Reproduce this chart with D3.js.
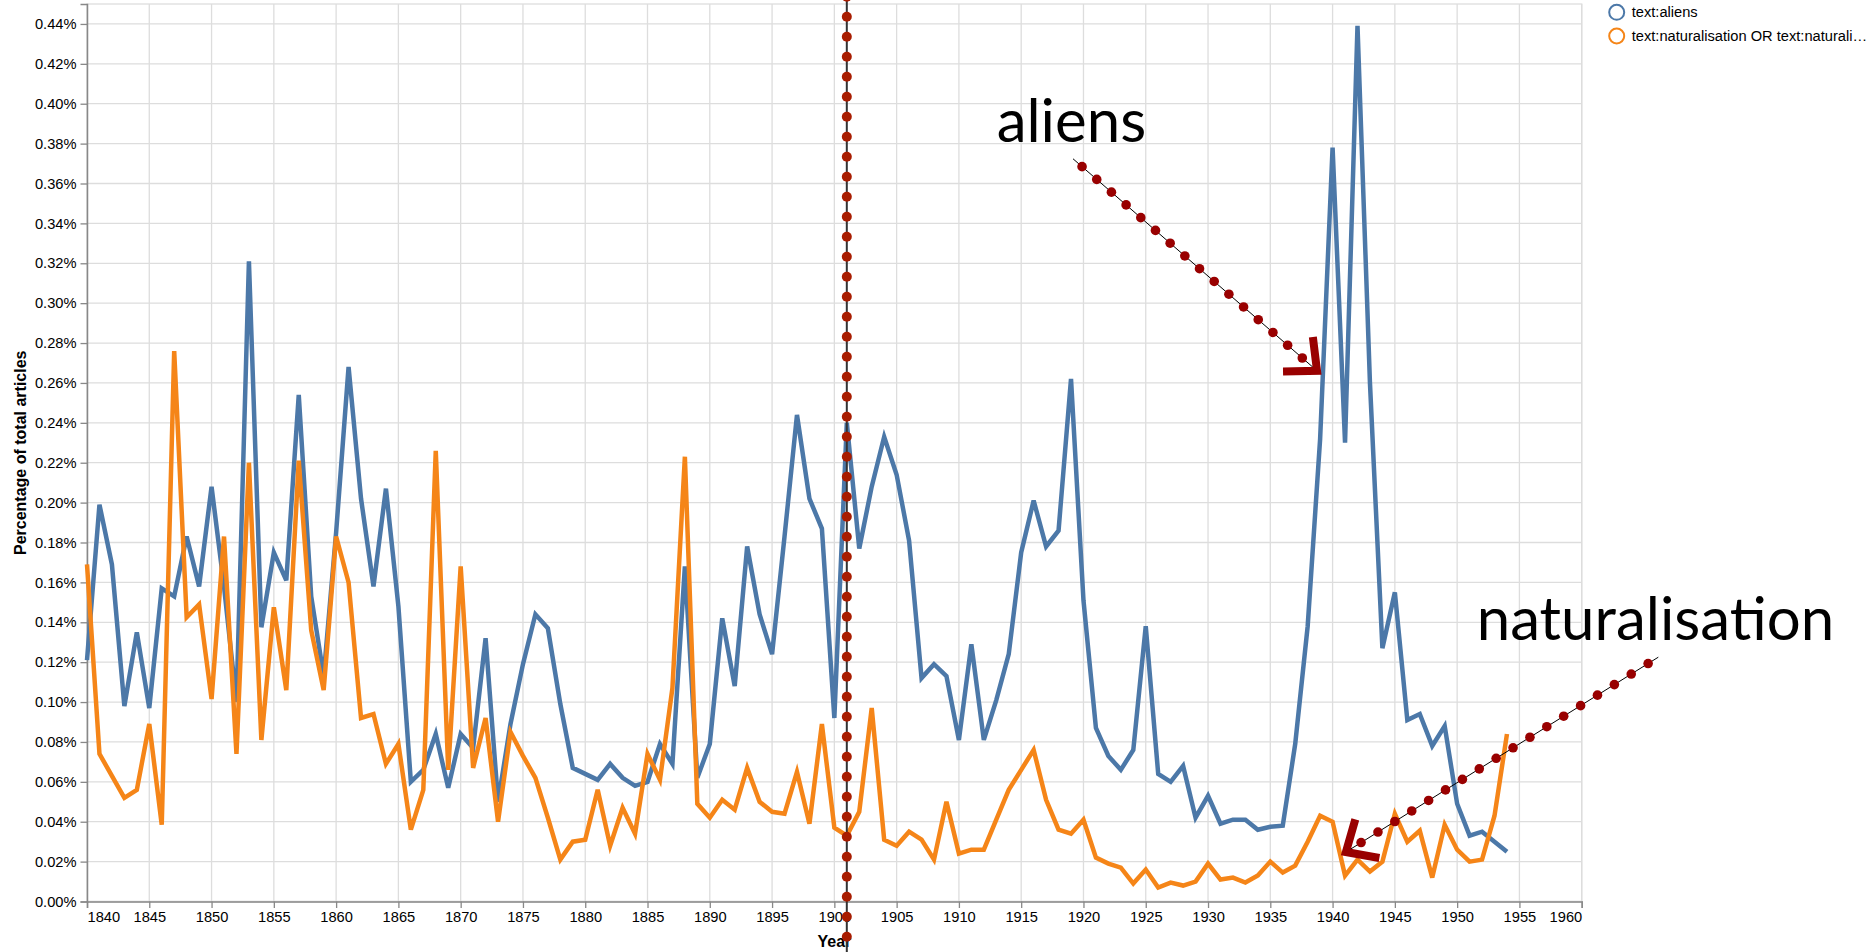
<!DOCTYPE html>
<html>
<head>
<meta charset="utf-8">
<script src="https://cdn.jsdelivr.net/npm/d3@7"></script>
<style>
  html, body { margin: 0; padding: 0; background: #fff; }
  svg { display: block; }
  text { font-family: "Liberation Sans", Arial, Helvetica, sans-serif; }
</style>
</head>
<body>
<svg id="chart" width="1875" height="952"></svg>
<script>
// ---------------- DATA ----------------
const years = d3.range(1840, 1955);

const aliens = [
  0.121, 0.199, 0.169, 0.098, 0.135, 0.097, 0.157, 0.153, 0.183, 0.158, // 1840-1849
  0.208, 0.158, 0.100, 0.321, 0.1375, 0.175, 0.161, 0.254, 0.153, 0.113, // 1850-1859
  0.185, 0.268, 0.202, 0.158, 0.207, 0.148, 0.060, 0.066, 0.084, 0.057, // 1860-1869
  0.084, 0.077, 0.132, 0.050, 0.089, 0.119, 0.144, 0.137, 0.099, 0.067, // 1870-1879
  0.064, 0.061, 0.069, 0.062, 0.058, 0.060, 0.079, 0.069, 0.168, 0.062, // 1880-1889
  0.079, 0.142, 0.108, 0.178, 0.144, 0.124, 0.183, 0.244, 0.202, 0.187, // 1890-1899
  0.092, 0.240, 0.177, 0.208, 0.233, 0.214, 0.181, 0.112, 0.119, 0.113, // 1900-1909
  0.081, 0.129, 0.081, 0.101, 0.124, 0.175, 0.201, 0.178, 0.186, 0.262, // 1910-1919
  0.151, 0.087, 0.073, 0.066, 0.076, 0.138, 0.064, 0.060, 0.068, 0.042, // 1920-1929
  0.053, 0.039, 0.041, 0.041, 0.036, 0.0375, 0.038, 0.079, 0.138, 0.232, // 1930-1939
  0.378, 0.230, 0.439, 0.260, 0.127, 0.155, 0.091, 0.094, 0.078, 0.088, // 1940-1949
  0.049, 0.033, 0.035, 0.030, 0.025                                     // 1950-1954
];

const naturalisation = [
  0.169, 0.074, 0.063, 0.052, 0.056, 0.089, 0.0385, 0.276, 0.1425, 0.149, // 1840-1849
  0.1015, 0.183, 0.074, 0.220, 0.081, 0.1475, 0.106, 0.221, 0.136, 0.106, // 1850-1859
  0.183, 0.160, 0.092, 0.094, 0.069, 0.079, 0.036, 0.056, 0.226, 0.066,   // 1860-1869
  0.168, 0.067, 0.092, 0.040, 0.085, 0.073, 0.062, 0.042, 0.021, 0.030,   // 1870-1879
  0.031, 0.056, 0.028, 0.047, 0.034, 0.074, 0.061, 0.107, 0.223, 0.049,   // 1880-1889
  0.042, 0.051, 0.046, 0.067, 0.050, 0.045, 0.044, 0.065, 0.039, 0.089,   // 1890-1899
  0.037, 0.033, 0.045, 0.097, 0.031, 0.028, 0.035, 0.031, 0.021, 0.050,   // 1900-1909
  0.024, 0.026, 0.026, 0.041, 0.056, 0.066, 0.076, 0.051, 0.036, 0.034,   // 1910-1919
  0.041, 0.022, 0.019, 0.017, 0.009, 0.016, 0.007, 0.0095, 0.008, 0.010,  // 1920-1929
  0.019, 0.011, 0.012, 0.0095, 0.013, 0.020, 0.0145, 0.018, 0.030, 0.043, // 1930-1939
  0.040, 0.013, 0.021, 0.015, 0.020, 0.044, 0.030, 0.0355, 0.012, 0.0385, // 1940-1949
  0.026, 0.020, 0.021, 0.043, 0.084                                       // 1950-1954
];

const seriesNames = ["text:aliens", "text:naturalisation OR text:naturali\u2026"];
const seriesColors = ["#4c78a8", "#f58518"];

const xTicks = d3.range(1840, 1961, 5);
const yTicks = d3.range(0, 0.4401, 0.02);

// annotation anchors in data coordinates (year, percent)
const markerYear = 1901;
const annotations = [
  { label: "aliens",         textAt: [1913.03, 0.3810], from: [1919.16, 0.3724], to: [1938.75, 0.2661], spacing: 19.45 },
  { label: "naturalisation", textAt: [1951.57, 0.1311], from: [1966.15, 0.1225], to: [1941.07, 0.0248], spacing: 19.9 }
];

// ---------------- CHART ----------------
const svg = d3.select("#chart");
const x = d3.scaleLinear().domain([1840, 1960]).range([87, 1581.7]);
const y = d3.scaleLinear().domain([0, 0.45]).range([901.5, 4]);
const fmt = v => d3.format(".2f")(v) + "%";

// grid
const grid = svg.append("g");
grid.selectAll("line.vg").data(xTicks).join("line")
  .attr("x1", d => x(d)).attr("x2", d => x(d))
  .attr("y1", y(0)).attr("y2", y(0.45))
  .attr("stroke", "#ddd").attr("stroke-width", 1.3);
grid.selectAll("line.hg").data(yTicks).join("line")
  .attr("x1", x(1840)).attr("x2", x(1960))
  .attr("y1", d => y(d)).attr("y2", d => y(d))
  .attr("stroke", "#ddd").attr("stroke-width", 1.3);
// view border
svg.append("rect")
  .attr("x", x(1840)).attr("y", y(0.45))
  .attr("width", x(1960) - x(1840)).attr("height", y(0) - y(0.45))
  .attr("fill", "none").attr("stroke", "#ddd").attr("stroke-width", 1.3);

// axes
const xAxis = svg.append("g").attr("transform", `translate(0,${y(0)})`)
  .call(d3.axisBottom(x).tickValues(xTicks).tickFormat(d3.format("d")).tickSize(6.5).tickPadding(4));
xAxis.selectAll("text").attr("font-size", "14.67px").attr("fill", "#000")
  .attr("text-anchor", (d, i, n) => i === 0 ? "start" : (i === n.length - 1 ? "end" : "middle"));
xAxis.select(".domain").attr("stroke", "#888").attr("stroke-width", 1.5);
xAxis.selectAll(".tick line").attr("stroke", "#888").attr("stroke-width", 1.3);

const yAxis = svg.append("g").attr("transform", `translate(${x(1840)},0)`)
  .call(d3.axisLeft(y).tickValues(yTicks).tickFormat(fmt).tickSize(6.5).tickPadding(4));
yAxis.selectAll("text").attr("font-size", "14.67px").attr("fill", "#000");
yAxis.select(".domain").attr("stroke", "#888").attr("stroke-width", 1.5);
yAxis.selectAll(".tick line").attr("stroke", "#888").attr("stroke-width", 1.3);

svg.append("text").attr("transform", `translate(25.5,${(y(0) + y(0.45)) / 2}) rotate(-90)`)
  .attr("text-anchor", "middle").attr("font-weight", "bold").attr("font-size", "16px")
  .text("Percentage of total articles");
svg.append("text").attr("x", (x(1840) + x(1960)) / 2).attr("y", 947)
  .attr("text-anchor", "middle").attr("font-weight", "bold").attr("font-size", "16px")
  .text("Year");

// lines
const line = d3.line().x((d, i) => x(years[i])).y(d => y(d));
[aliens, naturalisation].forEach((s, k) => {
  svg.append("path").datum(s).attr("d", line)
    .attr("fill", "none").attr("stroke", seriesColors[k]).attr("stroke-width", 4.5);
});

// vertical dotted marker line
const vx = x(markerYear);
svg.append("line").attr("x1", vx).attr("x2", vx).attr("y1", 0).attr("y2", 952)
  .attr("stroke", "#333").attr("stroke-width", 2);
svg.append("g").selectAll("circle").data(d3.range(0, 48)).join("circle")
  .attr("cx", vx).attr("cy", k => -3.3 + 20 * k).attr("r", 5).attr("fill", "#a81c00");

// annotation arrows & labels
annotations.forEach(a => {
  const x0 = x(a.from[0]), y0 = y(a.from[1]);
  const x1 = x(a.to[0]), y1 = y(a.to[1]);
  const dx = x1 - x0, dy = y1 - y0, len = Math.hypot(dx, dy);
  const ux = dx / len, uy = dy / len;
  svg.append("line").attr("x1", x0).attr("y1", y0).attr("x2", x1).attr("y2", y1)
    .attr("stroke", "#000").attr("stroke-width", 1);
  const dots = [];
  for (let s = 12; s < len - 12; s += a.spacing) dots.push(s);
  svg.append("g").selectAll("circle").data(dots).join("circle")
    .attr("cx", s => x0 + ux * s).attr("cy", s => y0 + uy * s).attr("r", 4.8).attr("fill", "#990000");
  // chevron head
  const back = Math.atan2(-uy, -ux), half = 42 * Math.PI / 180, armLen = 34;
  const p1 = [x1 + armLen * Math.cos(back + half), y1 + armLen * Math.sin(back + half)];
  const p2 = [x1 + armLen * Math.cos(back - half), y1 + armLen * Math.sin(back - half)];
  svg.append("path").attr("d", `M${p1[0]},${p1[1]}L${x1},${y1}L${p2[0]},${p2[1]}`)
    .attr("fill", "none").attr("stroke", "#990000").attr("stroke-width", 8)
    .attr("stroke-linejoin", "miter").attr("stroke-miterlimit", 10);
  svg.append("text").attr("x", x(a.textAt[0])).attr("y", y(a.textAt[1]))
    .attr("font-size", "60px").attr("fill", "#000")
    .style("font-family", "Lato, sans-serif")
    .text(a.label);
});

// legend
const legend = svg.append("g");
seriesNames.forEach((name, i) => {
  const cy = 12.3 + 23.7 * i;
  legend.append("circle").attr("cx", 1616.7).attr("cy", cy).attr("r", 7.5)
    .attr("fill", "none").attr("stroke", seriesColors[i]).attr("stroke-width", 2);
  legend.append("text").attr("x", 1631.7).attr("y", cy).attr("dy", "0.35em")
    .attr("font-size", "14.67px").attr("fill", "#000").text(name);
});
</script>
</body>
</html>
